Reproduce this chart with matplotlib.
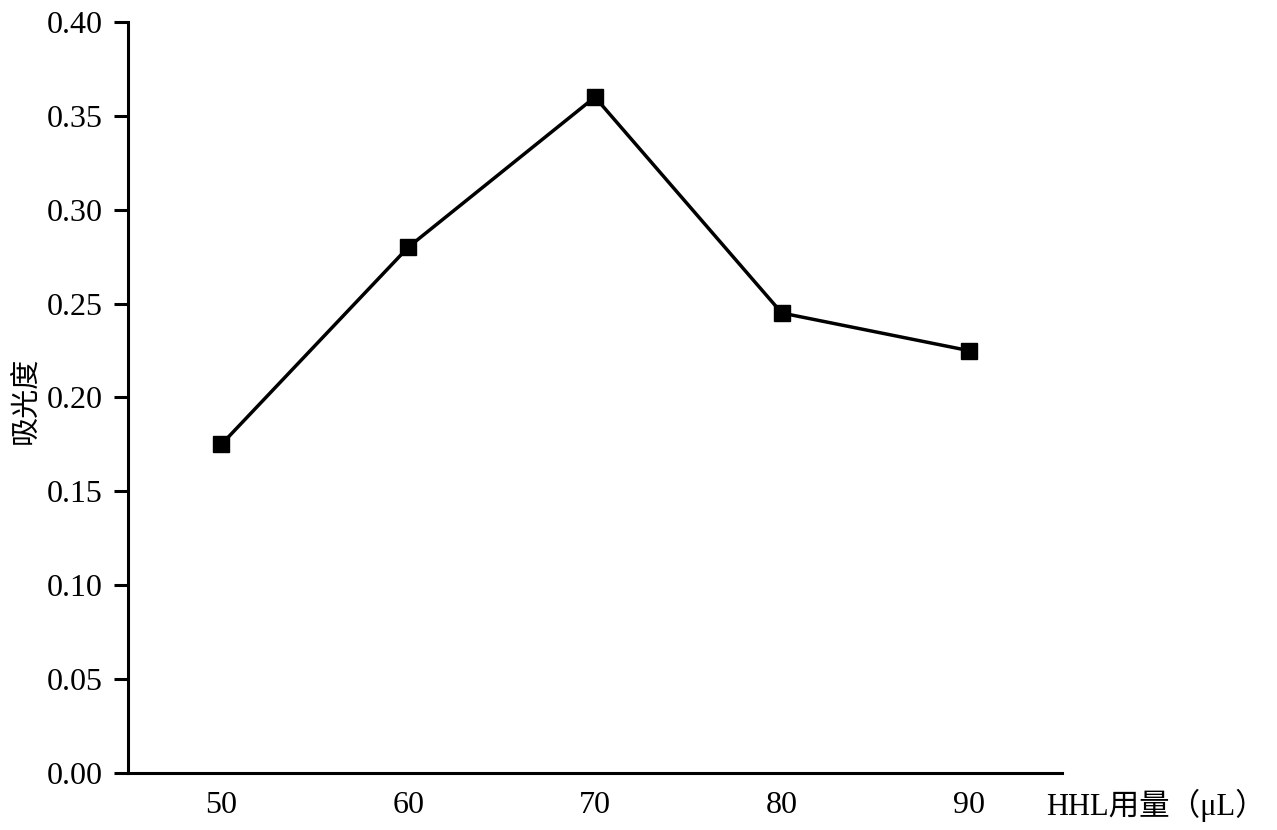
import matplotlib
matplotlib.use("Agg")
import matplotlib.pyplot as plt

# HHL dosage vs absorbance
hhl_ul = [50, 60, 70, 80, 90]
absorbance = [0.175, 0.28, 0.36, 0.245, 0.225]
y_ticks = [0.00, 0.05, 0.10, 0.15, 0.20, 0.25, 0.30, 0.35, 0.40]

plt.rcParams['font.family'] = ['Liberation Serif', 'Noto Sans CJK SC']

fig = plt.figure(figsize=(12.77, 8.30), dpi=100)
ax = fig.add_axes([0.1002, 0.0687, 0.7314, 0.9048])

ax.plot(hhl_ul, absorbance, color='black', linewidth=2.5, marker='s',
        markersize=11, markerfacecolor='black', markeredgecolor='black')

ax.set_xlim(45, 95)
ax.set_ylim(0, 0.40)
ax.set_xticks(hhl_ul)
ax.set_yticks(y_ticks)
ax.set_yticklabels([f"{v:.2f}" for v in y_ticks])

for s in ['top', 'right']:
    ax.spines[s].set_visible(False)
for s in ['left', 'bottom']:
    ax.spines[s].set_linewidth(2.2)

ax.tick_params(axis='y', direction='out', length=10, width=2.2, pad=8, labelsize=23)
ax.tick_params(axis='x', length=0, pad=13, labelsize=23)

fig.text(0.819, 0.030, "HHL用量（μL）", fontsize=22, ha='left', va='center')
fig.text(0.020, 0.518, "吸光度", fontsize=21, rotation=90, ha='center', va='center')

fig.savefig("out.png", dpi=100)
